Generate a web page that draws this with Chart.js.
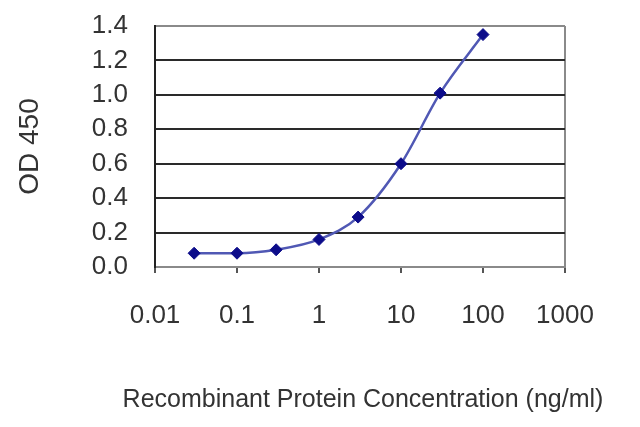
<!DOCTYPE html>
<html>
<head>
<meta charset="utf-8">
<script src="https://cdn.jsdelivr.net/npm/chart.js@4"></script>
<style>
  html, body { margin: 0; padding: 0; background: #fff; }
  #wrap { width: 640px; height: 427px; }
</style>
</head>
<body>
<div id="wrap"><canvas id="od_chart"></canvas></div>
<script>
// concentration (ng/ml) and measured OD 450
var concentrations = [0.03, 0.1, 0.3, 1, 3, 10, 30, 100];
var odValues = [0.08, 0.08, 0.10, 0.16, 0.29, 0.60, 1.01, 1.35];
var xTickValues = [0.01, 0.1, 1, 10, 100, 1000];
var yTickValues = [0, 0.2, 0.4, 0.6, 0.8, 1.0, 1.2, 1.4];
var xTitle = 'Recombinant Protein Concentration (ng/ml)';

var fontFamily = '"Liberation Sans", Arial, sans-serif';

var points = concentrations.map(function (c, i) {
    return { x: c, y: odValues[i] };
});

// the x title is wider than the plot, so the scale title would squeeze it
var xTitlePlugin = {
    id: 'xTitle',
    afterDraw: function (chart) {
        var ctx = chart.ctx;
        ctx.save();
        ctx.font = '25px ' + fontFamily;
        ctx.fillStyle = '#333';
        ctx.textAlign = 'center';
        ctx.textBaseline = 'middle';
        ctx.fillText(xTitle, 363, 400);
        ctx.restore();
    }
};

var canvas = document.getElementById('od_chart');
var odChart = new Chart(canvas, {
    type: 'line',
    data: {
        datasets: [{
            label: 'OD 450',
            data: points,
            borderColor: '#5058b4',
            borderWidth: 2.5,
            cubicInterpolationMode: 'monotone',
            pointStyle: 'rectRot',
            pointRadius: 6,
            pointBackgroundColor: '#0c0c8a',
            pointBorderColor: '#0c0c8a',
            pointBorderWidth: 1,
            fill: false
        }]
    },
    plugins: [xTitlePlugin],
    options: {
        responsive: true,
        maintainAspectRatio: false,
        animation: false,
        layout: { padding: { top: 26, right: 75, bottom: 0, left: 0 } },
        plugins: {
            legend: { display: false },
            tooltip: { enabled: false }
        },
        scales: {
            x: {
                type: 'logarithmic',
                min: 0.01,
                max: 1000,
                afterBuildTicks: function (scale) {
                    scale.ticks = xTickValues.map(function (v) { return { value: v }; });
                },
                afterFit: function (scale) { scale.height = 160; },
                grid: {
                    drawOnChartArea: true,
                    color: function (ctx) {
                        return ctx.tick && ctx.tick.value === 1000 ? '#8a8a8a' : 'rgba(0,0,0,0)';
                    },
                    lineWidth: 2,
                    tickColor: '#555',
                    tickLength: 6
                },
                border: { color: '#8a8a8a', width: 2 },
                ticks: {
                    autoSkip: false,
                    maxRotation: 0,
                    padding: 27,
                    color: '#333',
                    font: { family: fontFamily, size: 26 },
                    callback: function (value) { return String(value); }
                }
            },
            y: {
                min: 0,
                max: 1.4,
                afterBuildTicks: function (scale) {
                    scale.ticks = yTickValues.map(function (v) { return { value: v }; });
                },
                afterFit: function (scale) {
                    scale.width = 155;
                    scale.paddingTop = 0;
                    scale.paddingBottom = 0;
                },
                grid: {
                    color: function (ctx) {
                        var v = ctx.tick ? ctx.tick.value : 0;
                        return (v === 0 || v === 1.4) ? '#8a8a8a' : '#2a2a2a';
                    },
                    lineWidth: 2,
                    drawTicks: false
                },
                border: { color: '#222', width: 2 },
                ticks: {
                    autoSkip: false,
                    padding: 27,
                    color: '#333',
                    font: { family: fontFamily, size: 26 },
                    callback: function (value) { return Number(value).toFixed(1); }
                },
                title: {
                    display: true,
                    text: 'OD 450',
                    color: '#333',
                    font: { family: fontFamily, size: 28 },
                    padding: { top: 13, bottom: 0 }
                }
            }
        }
    }
});
</script>
</body>
</html>
